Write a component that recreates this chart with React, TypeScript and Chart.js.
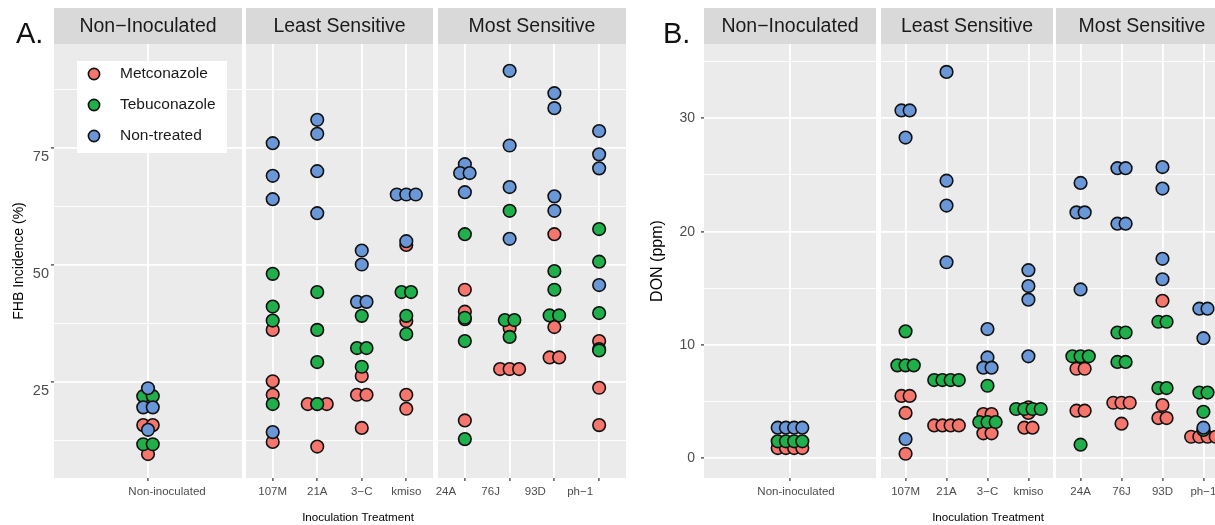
import React, { useEffect, useRef } from "react";
import { Chart, registerables } from "chart.js";

Chart.register(...registerables);

const FONT = '"Liberation Sans", Arial, Helvetica, sans-serif';
Chart.defaults.font.family = FONT;

// ---------------- data ----------------
const SERIES = ["Metconazole", "Tebuconazole", "Non-treated"];
const SERIES_COLORS = ["#F4766D", "#1FAF4B", "#6A97D7"];

const CULTIVARS = ["Non-inoculated", "107M", "21A", "3−C", "kmiso", "24A", "76J", "93D", "ph−1"];
const FACET_TITLES = ["Non−Inoculated", "Least Sensitive", "Most Sensitive"];
const FACET_CULTIVARS = [
  ["Non-inoculated"],
  ["107M", "21A", "3−C", "kmiso"],
  ["24A", "76J", "93D", "ph−1"],
];

// Panel A: FHB incidence (%), replicates per cultivar (CULTIVARS order)
const FHB_METCONAZOLE = [
  [15.7, 15.7, 11.2, 9.5],
  [36.1, 25.1, 22.2, 12.1],
  [20.2, 20.2, 20.2, 11.1],
  [26.2, 22.2, 22.2, 15.1],
  [54.3, 38.0, 22.2, 19.2],
  [44.7, 40.0, 38.4, 16.7],
  [36.5, 27.7, 27.7, 27.7],
  [56.6, 36.7, 30.2, 30.2],
  [33.7, 32.0, 23.7, 15.7],
];
const FHB_TEBUCONAZOLE = [
  [21.9, 21.9, 11.6, 11.6],
  [48.1, 41.1, 38.1, 20.2],
  [44.2, 36.1, 29.2, 20.2],
  [39.1, 32.2, 32.2, 28.2],
  [44.2, 44.2, 39.1, 35.2],
  [56.6, 38.7, 33.7, 12.7],
  [61.6, 38.2, 38.2, 34.6],
  [48.7, 44.7, 39.2, 39.2],
  [57.7, 50.7, 39.7, 31.7],
];
const FHB_NONTREATED = [
  [23.6, 19.5, 19.5, 14.7],
  [76.1, 69.1, 64.1, 14.2],
  [81.1, 78.1, 70.1, 61.1],
  [53.1, 50.1, 42.1, 42.1],
  [65.1, 65.1, 65.1, 55.1],
  [71.6, 69.7, 69.7, 65.6],
  [91.6, 75.6, 66.7, 55.6],
  [86.8, 83.6, 64.7, 61.6],
  [78.7, 73.7, 70.7, 45.7],
];

// Panel B: DON (ppm)
const DON_METCONAZOLE = [
  [0.9, 0.9, 0.9, 0.9],
  [5.5, 5.5, 4.0, 0.4],
  [2.9, 2.9, 2.9, 2.9],
  [3.9, 3.9, 2.2, 2.2],
  [4.5, 4.0, 2.7, 2.7],
  [7.9, 7.9, 4.2, 4.2],
  [4.9, 4.9, 4.9, 3.05],
  [13.9, 4.7, 3.55, 3.55],
  [1.9, 1.9, 1.9, 1.9],
];
const DON_TEBUCONAZOLE = [
  [1.5, 1.5, 1.5, 1.5],
  [11.2, 8.2, 8.2, 8.2],
  [6.9, 6.9, 6.9, 6.9],
  [6.4, 3.2, 3.2, 3.2],
  [4.35, 4.35, 4.35, 4.35],
  [9.0, 9.0, 9.0, 1.2],
  [11.1, 11.1, 8.5, 8.5],
  [12.05, 12.05, 6.2, 6.2],
  [5.8, 5.8, 4.1, 2.5],
];
const DON_NONTREATED = [
  [2.7, 2.7, 2.7, 2.7],
  [30.7, 30.7, 28.3, 1.7],
  [34.1, 24.5, 22.3, 17.3],
  [11.4, 8.9, 8.0, 8.0],
  [16.6, 15.2, 14.0, 9.0],
  [24.3, 21.7, 21.7, 14.9],
  [25.6, 25.6, 20.7, 20.7],
  [25.7, 23.8, 17.6, 15.8],
  [13.2, 13.2, 10.6, 2.7],
];

const FHB_MAJOR_TICKS = [25, 50, 75];
const FHB_MINOR_TICKS = [12.5, 37.5, 62.5, 87.5];
const DON_MAJOR_TICKS = [0, 10, 20, 30];
const DON_MINOR_TICKS = [5, 15, 25, 35];

// ---------------- layout ----------------
const STRIP_TOP = 8;
const STRIP_H = 36;
const PANEL_H = 434;
const AXIS_H = 50;
const CANVAS_H = STRIP_H + PANEL_H + AXIS_H;
const SIDE_MARGIN = 6;

type PanelCfg = {
  tag: string;
  tagX: number;
  yTitle: string;
  yTitleSize: number;
  yTitleCenter: number;
  yTickSize: number;
  yTickPad: number;
  yLabelShift: number;
  series: number[][][];
  major: number[];
  minor: number[];
  yMin: number;
  yMax: number;
  axisLeft: number;
  facetX: number[][];
  tickLabelShift: number[];
  dodgePx: number;
  xTitleX: number;
  legend: boolean;
};

const PANELS: PanelCfg[] = [
  {
    tag: "A.",
    tagX: 16,
    yTitle: "FHB Incidence (%)",
    yTitleSize: 14,
    yTitleCenter: 19,
    yTickSize: 14.5,
    yTickPad: 2,
    yLabelShift: 9,
    series: [FHB_METCONAZOLE, FHB_TEBUCONAZOLE, FHB_NONTREATED],
    major: FHB_MAJOR_TICKS,
    minor: FHB_MINOR_TICKS,
    yMin: 4.37,
    yMax: 97.34,
    axisLeft: 0,
    facetX: [
      [54, 242],
      [246, 433],
      [438, 626],
    ],
    tickLabelShift: [19, 0, -19],
    dodgePx: 9.5,
    xTitleX: 358,
    legend: true,
  },
  {
    tag: "B.",
    tagX: 663,
    yTitle: "DON (ppm)",
    yTitleSize: 16,
    yTitleCenter: 658,
    yTickSize: 14,
    yTickPad: 6,
    yLabelShift: 0,
    series: [DON_METCONAZOLE, DON_TEBUCONAZOLE, DON_NONTREATED],
    major: DON_MAJOR_TICKS,
    minor: DON_MINOR_TICKS,
    yMin: -1.74,
    yMax: 36.56,
    axisLeft: 620,
    facetX: [
      [704, 876],
      [881, 1053],
      [1056, 1228],
    ],
    tickLabelShift: [6, 0, 0],
    dodgePx: 8.2,
    xTitleX: 988,
    legend: false,
  },
];

// centred horizontal stacking of identical values (dot-plot style)
function dodge(values: number[], catIndex: number, step: number) {
  const counts = new Map<number, number>();
  const seen = new Map<number, number>();
  values.forEach((v) => counts.set(v, (counts.get(v) ?? 0) + 1));
  return values.map((v) => {
    const k = counts.get(v) as number;
    const i = seen.get(v) ?? 0;
    seen.set(v, i + 1);
    return { x: catIndex + (i - (k - 1) / 2) * step, y: v };
  });
}

function Facet({ panel, index }: { panel: PanelCfg; index: number }) {
  const ref = useRef<HTMLCanvasElement>(null);
  const [fx0, fx1] = panel.facetX[index];
  const first = index === 0;
  const left = first ? panel.axisLeft : fx0 - SIDE_MARGIN;
  const width = fx1 - left;
  const yAxisW = fx0 - left;

  useEffect(() => {
    const canvas = ref.current;
    if (!canvas) return;
    const cats = FACET_CULTIVARS[index];
    const pxPerUnit = (fx1 - fx0) / (cats.length + 0.2);
    const step = panel.dodgePx / pxPerUnit;
    const isMajor = (v: number) => panel.major.includes(v);

    const datasets = SERIES.map((name, s) => ({
      label: name,
      data: cats.flatMap((c, ci) => dodge(panel.series[s][CULTIVARS.indexOf(c)], ci, step)),
      backgroundColor: SERIES_COLORS[s],
      borderColor: "#111111",
      borderWidth: 1.6,
      pointRadius: 6.3,
      pointHoverRadius: 6.3,
      showLine: false,
      order: SERIES.length - s,
    }));

    const decor = {
      id: "decor",
      beforeDraw(chart: any) {
        const { ctx, chartArea: a } = chart;
        ctx.save();
        ctx.fillStyle = "#EBEBEB";
        ctx.fillRect(a.left, a.top, a.right - a.left, a.bottom - a.top);
        ctx.fillStyle = "#D9D9D9";
        ctx.fillRect(a.left, a.top - STRIP_H, a.right - a.left, STRIP_H);
        ctx.fillStyle = "#1A1A1A";
        ctx.font = `19.5px ${FONT}`;
        ctx.textAlign = "center";
        ctx.textBaseline = "middle";
        ctx.fillText(FACET_TITLES[index], (a.left + a.right) / 2, a.top - STRIP_H / 2 + 1);
        ctx.restore();
      },
      afterDraw(chart: any) {
        const { ctx, chartArea: a } = chart;
        ctx.save();
        if (first) {
          ctx.fillStyle = "#111111";
          ctx.font = `29px ${FONT}`;
          ctx.textAlign = "left";
          ctx.textBaseline = "alphabetic";
          ctx.fillText(panel.tag, panel.tagX - left, 43 - STRIP_TOP);
        }
        if (index === 1) {
          ctx.fillStyle = "#000000";
          ctx.font = `11.6px ${FONT}`;
          ctx.textAlign = "center";
          ctx.textBaseline = "middle";
          ctx.fillText("Inoculation Treatment", panel.xTitleX - left, 518 - STRIP_TOP);
        }
        if (first && panel.legend) {
          const bx = a.left + 23;
          const by = a.top + 17;
          ctx.fillStyle = "#FFFFFF";
          ctx.fillRect(bx, by, 150, 92);
          const rows = [30, 61, 92];
          SERIES.forEach((name, s) => {
            const cy = a.top + rows[s];
            ctx.beginPath();
            ctx.arc(a.left + 40, cy, 5.6, 0, Math.PI * 2);
            ctx.fillStyle = SERIES_COLORS[s];
            ctx.fill();
            ctx.lineWidth = 1.6;
            ctx.strokeStyle = "#111111";
            ctx.stroke();
            ctx.fillStyle = "#1A1A1A";
            ctx.font = `15.5px ${FONT}`;
            ctx.textAlign = "left";
            ctx.textBaseline = "middle";
            ctx.fillText(name, a.left + 66, cy);
          });
        }
        ctx.restore();
      },
    };

    const chart = new Chart(canvas, {
      type: "scatter",
      data: { datasets },
      options: {
        animation: false,
        responsive: false,
        events: [],
        layout: { autoPadding: false, padding: { top: STRIP_H, left: 0, right: 0, bottom: 0 } },
        plugins: { legend: { display: false }, tooltip: { enabled: false } },
        scales: {
          x: {
            type: "linear",
            min: -0.6,
            max: cats.length - 0.4,
            bounds: "data",
            afterBuildTicks: (scale: any) => {
              scale.ticks = cats.map((_, i) => ({ value: i }));
            },
            afterFit: (scale: any) => {
              scale.height = AXIS_H;
            },
            ticks: {
              autoSkip: false,
              maxRotation: 0,
              minRotation: 0,
              padding: 4,
              labelOffset: panel.tickLabelShift[index],
              color: "#4D4D4D",
              font: { size: 11.5, family: FONT },
              callback: (_v: any, i: number) => cats[i],
            },
            grid: {
              color: "#FFFFFF",
              lineWidth: 1.8,
              drawTicks: true,
              tickLength: 3,
              tickColor: "#333333",
              tickWidth: 1.2,
            },
            border: { display: false },
          },
          y: {
            type: "linear",
            min: panel.yMin,
            max: panel.yMax,
            bounds: "data",
            afterBuildTicks: (scale: any) => {
              scale.ticks = [...panel.major, ...panel.minor]
                .sort((p, q) => p - q)
                .map((v) => ({ value: v }));
            },
            afterFit: (scale: any) => {
              scale.width = yAxisW;
            },
            ticks: {
              display: first,
              padding: panel.yTickPad,
              labelOffset: panel.yLabelShift,
              color: "#4D4D4D",
              font: { size: panel.yTickSize, family: FONT },
              callback: (v: any) => (isMajor(Number(v)) ? String(v) : ""),
            },
            grid: {
              color: "#FFFFFF",
              lineWidth: (ctx: any) => (isMajor(ctx.tick?.value) ? 1.8 : 0.9),
              drawTicks: first,
              tickLength: 3,
              tickColor: (ctx: any) => (isMajor(ctx.tick?.value) ? "#333333" : "rgba(0,0,0,0)"),
              tickWidth: 1.2,
            },
            border: { display: false },
            title: {
              display: first,
              text: panel.yTitle,
              color: "#000000",
              font: { size: panel.yTitleSize, family: FONT },
              padding: { top: panel.yTitleCenter - left - (panel.yTitleSize * 1.2) / 2, bottom: 0 },
            },
          },
        },
      } as any,
      plugins: [decor],
    });
    return () => chart.destroy();
  }, []);

  return (
    <canvas
      ref={ref}
      width={width}
      height={CANVAS_H}
      style={{ position: "absolute", left, top: STRIP_TOP, width, height: CANVAS_H }}
    />
  );
}

export default function App() {
  return (
    <div
      style={{
        position: "fixed",
        left: 0,
        top: 0,
        width: 1215,
        height: 525,
        overflow: "hidden",
        background: "#FFFFFF",
      }}
    >
      {PANELS.map((p, pi) =>
        [0, 1, 2].map((fi) => <Facet key={`${pi}-${fi}`} panel={p} index={fi} />)
      )}
    </div>
  );
}
